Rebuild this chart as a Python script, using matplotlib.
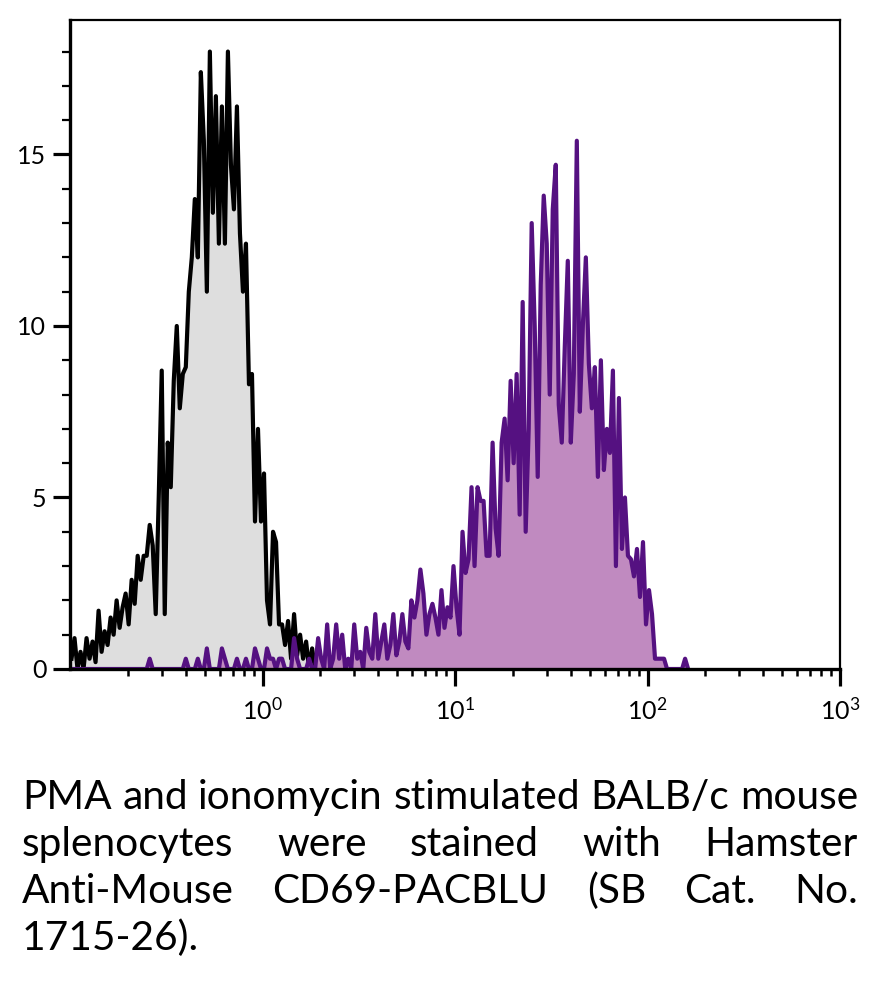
import numpy as np
import matplotlib
matplotlib.use("Agg")
import matplotlib.pyplot as plt
from matplotlib.ticker import FixedLocator, NullFormatter, LogLocator

plt.rcParams['font.family'] = ['Lato', 'DejaVu Sans']
plt.rcParams['mathtext.fontset'] = 'custom'
plt.rcParams['mathtext.rm'] = 'Lato'
plt.rcParams['mathtext.it'] = 'Lato'

# histogram channels: 64 bins per decade starting at 10^-1
bins_per_decade = 64
x_start_exp = -1

# unstained / control (gray with black line)
control = [0.3, 0.9, 0.0, 0.5, 0.0, 0.9, 0.3, 0.8, 0.2, 1.7, 0.5, 1.1, 0.7, 1.5, 1.0, 2.0,
           1.2, 1.8, 2.2, 1.3, 2.6, 1.9, 3.3, 2.6, 3.3, 3.3, 4.2, 3.6, 1.6, 5.0, 8.7, 1.6,
           6.6, 5.3, 8.4, 10.0, 7.6, 8.6, 8.8, 11.0, 12.0, 13.7, 12.0, 17.4, 15.4, 11.0, 18.0, 13.3,
           16.7, 12.4, 16.4, 12.4, 18.0, 14.7, 13.4, 16.4, 12.7, 11.0, 12.4, 8.3, 8.6, 4.3, 7.0, 4.3,
           5.7, 2.0, 1.3, 4.0, 3.7, 1.3, 1.3, 0.7, 1.4, 0.3, 1.6, 0.4, 1.0, 0.3, 0.8, 0.0,
           0.6, 0.0, 0.7, 0.2, 0.0]

# CD69-PACBLU stained (purple)
stained = [0, 0, 0, 0, 0, 0, 0, 0, 0, 0, 0, 0, 0, 0, 0, 0,
           0, 0, 0, 0, 0, 0, 0, 0, 0, 0, 0.3, 0, 0, 0, 0, 0,
           0, 0, 0, 0, 0, 0, 0.3, 0, 0, 0, 0.3, 0, 0, 0.6, 0, 0,
           0, 0, 0.6, 0.3, 0, 0, 0, 0.3, 0, 0, 0.3, 0, 0, 0.6, 0.3, 0,
           0, 0.6, 0.3, 0.3, 0, 0.3, 0.3, 0, 0, 0, 0.9, 0.3, 0, 0, 0, 0.3,
           0, 0, 0.9, 0.3, 0, 1.3, 0, 0.3, 1.3, 0.3, 1.0, 0, 0.3, 0, 1.3, 0.3,
           0.5, 0, 1.2, 0.5, 0.3, 1.6, 0.3, 0.8, 1.3, 0.3, 0.7, 1.6, 0.4, 0.8, 1.6, 0.8,
           0.6, 2.0, 1.5, 2.0, 2.9, 2.2, 1.0, 1.6, 1.9, 1.5, 1.0, 2.3, 1.2, 1.8, 1.5, 3.0,
           1.8, 1.0, 4.0, 2.8, 3.2, 5.3, 3.0, 5.3, 4.9, 4.9, 3.3, 3.3, 6.6, 4.1, 3.3, 6.6,
           7.3, 5.5, 8.4, 6.0, 8.6, 4.5, 10.7, 4.0, 7.0, 13.0, 10.0, 5.6, 11.2, 13.8, 12.4, 8.0,
           13.4, 14.7, 7.7, 6.6, 9.4, 11.9, 6.6, 8.6, 15.4, 7.5, 10.0, 12.0, 8.9, 7.6, 8.8, 5.6,
           9.0, 5.8, 7.0, 6.3, 8.7, 3.0, 7.9, 3.5, 5.0, 3.3, 3.2, 2.7, 3.5, 2.1, 3.7, 1.3,
           2.3, 1.6, 0.3, 0.3, 0.3, 0.3, 0, 0, 0, 0, 0, 0, 0.3, 0]

y_major = [0, 5, 10, 15]
x_major = [1, 10, 100, 1000]
x_labels = ['$10^{0}$', '$10^{1}$', '$10^{2}$', '$10^{3}$']
caption_lines = ["PMA and ionomycin stimulated BALB/c mouse",
                 "splenocytes were stained with Hamster",
                 "Anti-Mouse CD69-PACBLU (SB Cat. No.",
                 "1715-26)."]


def centers(n):
    return 10 ** (x_start_exp + (np.arange(n) + 0.5) / bins_per_decade)


W, H = 874, 981
fig = plt.figure(figsize=(W / 100, H / 100), dpi=100)
ax = fig.add_axes([70 / W, 1 - 669 / H, 770 / W, 649 / H])

xc = centers(len(control))
ax.fill_between(xc, control, color='#dedede', lw=0, zorder=1)
ax.plot(xc, control, color='black', lw=3.0, zorder=1.5)

xs = centers(len(stained))
ax.fill_between(xs, stained, color='#c08ac0', lw=0, zorder=1.6)
ax.plot(xs, stained, color='#551181', lw=3.0, zorder=1.8)

ax.set_xscale('log')
ax.set_xlim(0.1, 1000)
ax.set_ylim(0, 18.92)

ax.xaxis.set_major_locator(FixedLocator(x_major))
ax.set_xticklabels(x_labels)
ax.xaxis.set_minor_locator(LogLocator(base=10, subs=np.arange(2, 10)))
ax.xaxis.set_minor_formatter(NullFormatter())
ax.yaxis.set_major_locator(FixedLocator(y_major))
ax.yaxis.set_minor_locator(FixedLocator(range(0, 19)))

ax.tick_params(axis='both', which='major', length=12, width=2.3, labelsize=18)
ax.tick_params(axis='y', which='major', pad=5)
ax.tick_params(axis='x', which='major', pad=8)
ax.tick_params(axis='x', which='minor', length=5, width=1.8)
ax.tick_params(axis='y', which='minor', length=6, width=1.6)

for side in ['left', 'bottom']:
    ax.spines[side].set_linewidth(2.4)
for side in ['top', 'right']:
    ax.spines[side].set_linewidth(1.6)
for sp in ax.spines.values():
    sp.set_zorder(3)

# justified caption, font size fitted so the first line spans the text block
fig.canvas.draw()
r = fig.canvas.get_renderer()
probe = fig.text(0, 0, caption_lines[0], fontsize=20)
fs = 20 * 836 / probe.get_window_extent(r).width
probe.remove()

left, right = 22, 858
baselines = [809, 856, 903, 950]
for k, (line, base) in enumerate(zip(caption_lines, baselines)):
    words = line.split()
    ts = [fig.text(0, 1 - base / H, w, fontsize=fs, va='baseline', color='black') for w in words]
    ws = [t.get_window_extent(r).width for t in ts]
    if k < len(caption_lines) - 1 and len(words) > 1:
        gap = (right - left - sum(ws)) / (len(words) - 1)
    else:
        gap = fs * 0.25
    xpos = left
    for t, w in zip(ts, ws):
        t.set_x(xpos / W)
        xpos += w + gap

fig.savefig('out.png', dpi=100)
